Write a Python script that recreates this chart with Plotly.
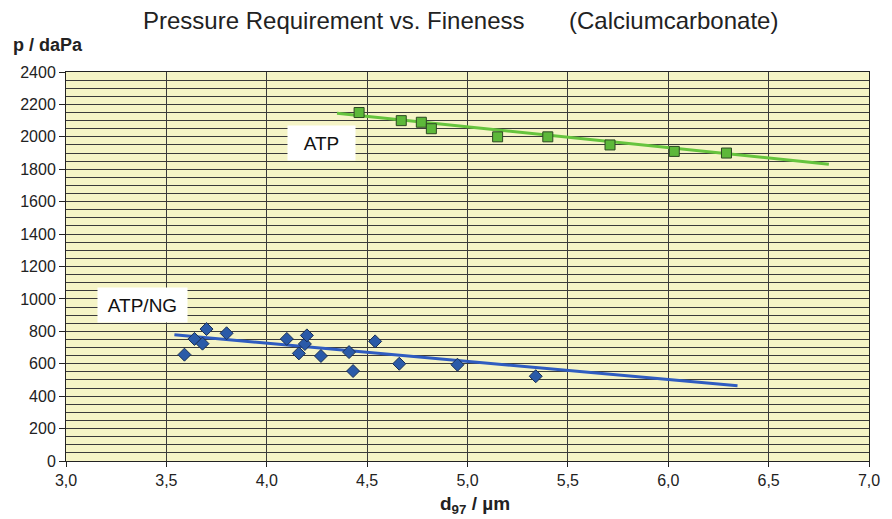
import plotly.graph_objects as go

# ---- data ----
atp_x = [4.46, 4.67, 4.77, 4.82, 5.15, 5.40, 5.71, 6.03, 6.29]
atp_y = [2150, 2100, 2090, 2050, 2000, 2000, 1950, 1910, 1900]
atp_trend_x = [4.35, 6.80]
atp_trend_y = [2145, 1831]

ng_x = [3.59, 3.64, 3.68, 3.70, 3.80, 4.10, 4.16, 4.19, 4.20, 4.27, 4.41, 4.43, 4.54, 4.66, 4.95, 5.34]
ng_y = [656, 753, 724, 814, 788, 753, 664, 722, 775, 648, 672, 555, 738, 600, 594, 523]
ng_trend_x = [3.54, 6.345]
ng_trend_y = [779, 464]

x_tickvals = [3.0, 3.5, 4.0, 4.5, 5.0, 5.5, 6.0, 6.5, 7.0]
x_ticktext = ["3,0", "3,5", "4,0", "4,5", "5,0", "5,5", "6,0", "6,5", "7,0"]
y_tickvals = [0, 200, 400, 600, 800, 1000, 1200, 1400, 1600, 1800, 2000, 2200, 2400]
y_ticktext = [str(v) for v in y_tickvals]

FONT = "Liberation Sans, Arial, sans-serif"
GRID = "#3a3a3a"
TXT = "#222222"

fig = go.Figure()

fig.add_trace(go.Scatter(x=atp_trend_x, y=atp_trend_y, mode="lines",
                         line=dict(color="#66c43e", width=3), showlegend=False, hoverinfo="skip"))
fig.add_trace(go.Scatter(x=atp_x, y=atp_y, mode="markers",
                         marker=dict(symbol="square", size=10, color="#5db83a",
                                     line=dict(color="#2d4a22", width=1)),
                         showlegend=False))
fig.add_trace(go.Scatter(x=ng_trend_x, y=ng_trend_y, mode="lines",
                         line=dict(color="#2f5cc0", width=3), showlegend=False, hoverinfo="skip"))
fig.add_trace(go.Scatter(x=ng_x, y=ng_y, mode="markers",
                         marker=dict(symbol="diamond", size=10, color="#2a5aa8",
                                     line=dict(color="#1a2f55", width=1)),
                         showlegend=False))

# page has an 8px body margin, so the figure is drawn 8px smaller and shifted
fig.update_layout(
    width=884, height=511,
    margin=dict(l=57, r=22, t=64, b=58),
    paper_bgcolor="white",
    plot_bgcolor="#f5f4c6",
    font=dict(family=FONT, color=TXT),
    showlegend=False,
)

fig.update_xaxes(
    range=[3.0, 7.0], tickvals=x_tickvals, ticktext=x_ticktext,
    showgrid=True, gridcolor=GRID, gridwidth=1,
    showline=True, linecolor=TXT, linewidth=1, mirror=True,
    ticks="outside", ticklen=5, tickcolor=TXT,
    tickfont=dict(size=16, family=FONT, color=TXT),
    zeroline=False,
)
fig.update_yaxes(
    range=[0, 2400], tickvals=y_tickvals, ticktext=y_ticktext,
    showgrid=True, gridcolor=GRID, gridwidth=1,
    minor=dict(dtick=50, tick0=0, showgrid=True, gridcolor=GRID, gridwidth=1),
    showline=True, linecolor=TXT, linewidth=1, mirror=True,
    ticks="outside", ticklen=6, tickcolor=TXT,
    tickfont=dict(size=16, family=FONT, color=TXT),
    zeroline=False,
)

# helper: page pixel -> paper coordinate (plot area on page: x 65..870, y 72..461)
W, H = 805.0, 389.0
def px(x): return (x - 65) / W
def py(y): return (461 - y) / H

annotations = [
    dict(text="Pressure Requirement vs. Fineness", x=px(140), y=py(21), xref="paper", yref="paper",
         xanchor="left", yanchor="middle", showarrow=False, font=dict(size=24, family=FONT, color=TXT)),
    dict(text="(Calciumcarbonate)", x=px(567), y=py(21), xref="paper", yref="paper",
         xanchor="left", yanchor="middle", showarrow=False, font=dict(size=24, family=FONT, color=TXT)),
    dict(text="<b>p / daPa</b>", x=px(10), y=py(45), xref="paper", yref="paper",
         xanchor="left", yanchor="middle", showarrow=False, font=dict(size=18, family=FONT, color=TXT)),
    dict(text="<b>d<sub>97</sub> / µm</b>", x=px(475), y=py(505), xref="paper", yref="paper",
         xanchor="center", yanchor="middle", showarrow=False, font=dict(size=19, family=FONT, color=TXT)),
    dict(text="ATP", x=4.273, y=1962, xref="x", yref="y", showarrow=False,
         bgcolor="white", width=63, height=30, borderpad=2,
         font=dict(size=19, family=FONT, color="#111111")),
    dict(text="ATP/NG", x=3.38, y=965, xref="x", yref="y", showarrow=False,
         bgcolor="white", width=85, height=30, borderpad=2,
         font=dict(size=19, family=FONT, color="#111111")),
]
fig.update_layout(annotations=annotations)

fig.write_html("out.html")
